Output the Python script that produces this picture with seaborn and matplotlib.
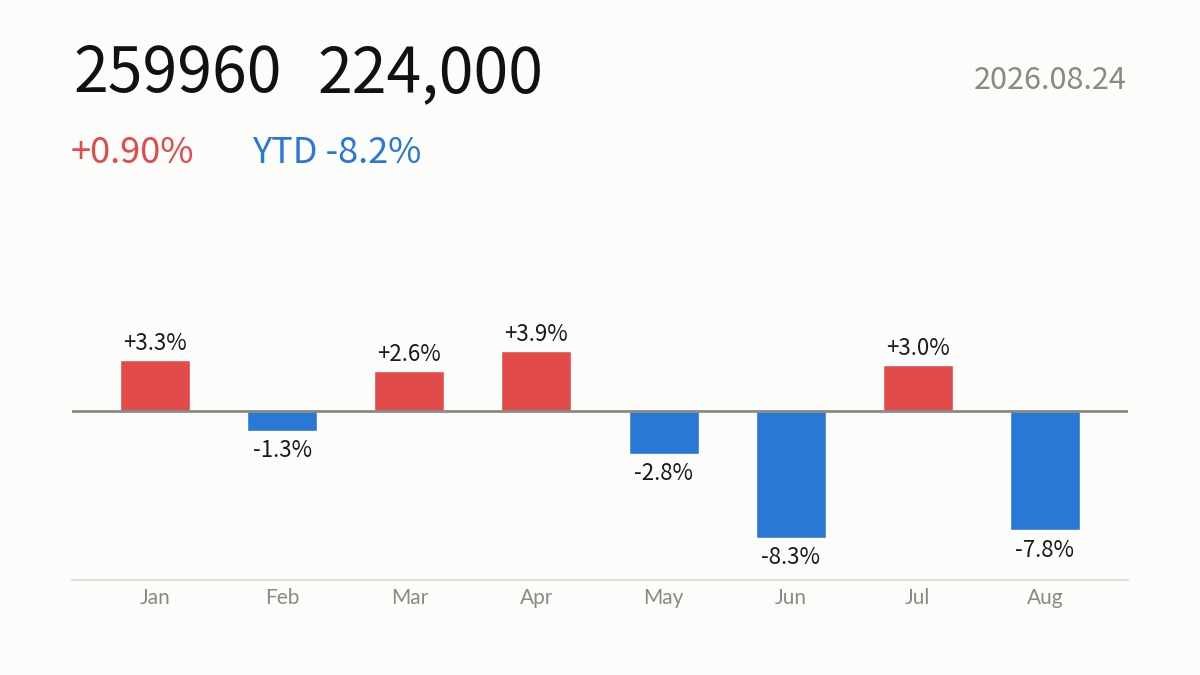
import matplotlib
matplotlib.use("Agg")
import matplotlib.pyplot as plt
import seaborn as sns
import pandas as pd

months = ["Jan", "Feb", "Mar", "Apr", "May", "Jun", "Jul", "Aug"]
changes = [3.3, -1.3, 2.6, 3.9, -2.8, -8.3, 3.0, -7.8]
labels = ["+3.3%", "-1.3%", "+2.6%", "+3.9%", "-2.8%", "-8.3%", "+3.0%", "-7.8%"]
ticker_text = "259960"
price_text = "224,000"
day_change = "+0.90%"
ytd_text = "YTD -8.2%"
date_text = "2026.08.24"

RED = "#e34a4a"
BLUE = "#2a78d6"
BG = "#fcfcfa"
GRAY = "#8a8a84"

sns.set_theme(style="white")
plt.rcParams["font.family"] = ["Noto Sans CJK JP", "DejaVu Sans"]

df = pd.DataFrame({"month": months, "change": changes})
df["dir"] = ["up" if v >= 0 else "down" for v in changes]

fig = plt.figure(figsize=(12, 6.75), dpi=100, facecolor=BG)
ax = fig.add_axes([72 / 1200, 95 / 675, 1056 / 1200, 380 / 675])
ax.set_facecolor(BG)

sns.barplot(data=df, x="month", y="change", hue="dir",
            palette={"up": RED, "down": BLUE}, dodge=False,
            width=0.55, legend=False, ax=ax, saturation=1)

ax.set_xlim(-0.654, 7.654)
ax.set_ylim(-11.05, 13.79)
ax.axhline(0, color=GRAY, lw=2, zorder=3)

for i, (v, lab) in enumerate(zip(changes, labels)):
    if v >= 0:
        ax.annotate(lab, (i, v), xytext=(0, 4), textcoords="offset points",
                    ha="center", va="bottom", fontsize=16, color="#1a1a1a")
    else:
        ax.annotate(lab, (i, v), xytext=(0, -6), textcoords="offset points",
                    ha="center", va="top", fontsize=16, color="#1a1a1a")

for s in ["top", "left", "right"]:
    ax.spines[s].set_visible(False)
ax.spines["bottom"].set_color("#e2e2dc")
ax.spines["bottom"].set_linewidth(1.5)
ax.set_yticks([])
ax.set_xlabel("")
ax.set_ylabel("")
ax.tick_params(axis="x", length=0, pad=6, labelsize=15, colors=GRAY)
for t in ax.get_xticklabels():
    t.set_fontfamily(["Lato", "DejaVu Sans"])
    t.set_fontweight("normal")

fig.text(73 / 1200, 1 - 92 / 675, ticker_text, fontsize=45, color="#111111",
         ha="left", va="baseline")
fig.text(318 / 1200, 1 - 92 / 675, price_text, fontsize=45, color="#111111",
         ha="left", va="baseline")
fig.text(71 / 1200, 1 - 163 / 675, day_change, fontsize=26, color=RED,
         ha="left", va="baseline")
fig.text(252 / 1200, 1 - 163 / 675, ytd_text, fontsize=26, color=BLUE,
         ha="left", va="baseline")
fig.text(1127 / 1200, 1 - 89 / 675, date_text, fontsize=22, color=GRAY,
         ha="right", va="baseline")

fig.savefig("out.png", dpi=100, facecolor=BG)
